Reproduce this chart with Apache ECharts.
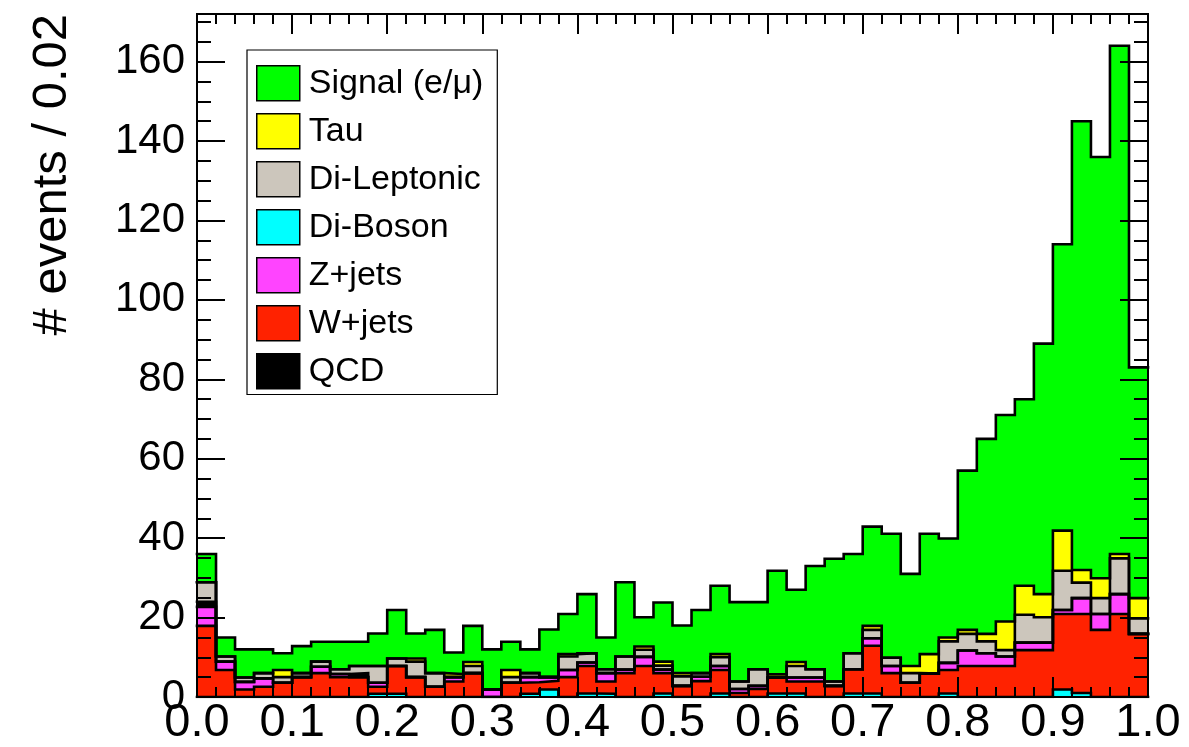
<!DOCTYPE html>
<html>
<head>
<meta charset="utf-8">
<script src="https://cdn.jsdelivr.net/npm/echarts@6/dist/echarts.min.js"></script>
<style>
html,body{margin:0;padding:0;background:#fff;}
#chart{width:1189px;height:747px;}
</style>
</head>
<body>
<div id="chart"></div>
<script>
// ---- data: 50 bins of width 0.02 on [0,1] ----
const nBins = 50;
const binWidth = 0.02;
const yAxisTitle = '# events / 0.02';
const legendNames = ['Signal (e/μ)', 'Tau', 'Di-Leptonic', 'Di-Boson', 'Z+jets', 'W+jets', 'QCD'];

const signal = [7.1,4.8,7.1,6.0,4.2,6.8,5.0,6.9,6.1,8.2,
                12.2,6.3,10.9,5.4,9.1,10.1,7.1,6.0,12.0,10.1,
                14.9,8.0,18.7,7.4,14.9,12.0,15.9,17.2,20.0,16.9,
                26.1,18.2,26.0,30.9,25.0,25.0,31.2,23.2,30.3,24.9,
                40.1,49.1,52.0,47.0,63.1,72.1,113.0,106.1,128.0,58.1];
const tau = [0,0,0,0,1.8,0,0,0,0,0,
             0,0.8,0,0.8,1.0,0,1.8,0,0,0.6,
             0,0,0,0.8,1.0,0.8,0,0.8,0,0,
             0.8,1.0,0,0,0,1.0,0,1.8,4.9,1.0,
             1.0,1.9,7.2,7.3,5.8,10.1,3.2,5.0,1.1,5.1];
const diLeptonic = [4.9,1.3,1.1,1.3,1.4,1.0,1.3,1.2,1.8,4.2,
                    1.9,3.9,3.4,0,1.8,0,1.4,1.0,0,3.4,
                    2.3,1.0,3.3,1.8,1.0,2.4,0.9,2.2,1.9,4.2,
                    0,2.9,2.1,1.1,4.0,2.1,2.1,2.4,0,5.4,
                    4.2,3.0,1.6,7.0,6.4,9.9,3.9,4.0,9.0,3.9];
const diBoson = [0,0,0,0,0,0,0,0,0,0.8,
                 0.8,0,0,0,0,0,0,0.8,1.9,0,
                 0.9,0.8,0,0,0.9,0,0,0.9,0,0,
                 0.9,0.9,0,0,0.9,0.9,0,0,0,0.9,
                 0,0,0,0,0,1.9,1.0,0,0,0];
const zJets = [4.8,2.1,1.9,2.1,0,0,1.6,0.8,0,1.0,
               0,0,0,1.1,0,1.9,0,1.3,0.9,1.8,
               0.9,2.1,0.9,2.3,0.9,0,1.1,1.0,1.0,0.8,
               0,1.0,1.0,0,0,1.9,1.8,0,0,1.8,
               3.9,3.2,2.4,1.9,1.9,1.0,4.0,4.0,5.0,0];
const wJets = [17.9,6.8,1.9,2.6,3.6,5.0,6.0,5.0,5.0,1.8,
               7.0,5.0,2.6,3.9,6.0,0,3.6,2.9,2.2,5.0,
               6.9,3.1,6.0,7.8,5.1,2.8,4.0,5.9,1.0,2.0,
               4.0,3.0,3.9,2.8,6.1,12.0,6.0,3.6,5.9,5.9,
               7.8,7.8,7.8,11.8,11.8,19.0,19.9,16.9,20.9,15.9];
const qcd = [1.3,0,0,0,0,0,0,0,1.0,0,
             0,0,0,0,0,0,0,0,0,0,
             0,0,0,0,0,0,0,0,0,0,
             0,0,0,0,0,0,0,0,0,0,
             0,0,0,0,0,0,0,0,0,0];

// ---- styles ----
const fillColors = {
  'Signal (e/μ)': '#00ff00',
  'Tau': '#ffff00',
  'Di-Leptonic': '#ccc6bc',
  'Di-Boson': '#00ffff',
  'Z+jets': '#ff44ff',
  'W+jets': '#ff2200',
  'QCD': '#000000'
};

// stacking order, bottom to top
const stackOrder = [
  ['Di-Boson', diBoson],
  ['W+jets', wJets],
  ['Z+jets', zJets],
  ['QCD', qcd],
  ['Di-Leptonic', diLeptonic],
  ['Tau', tau],
  ['Signal (e/μ)', signal]
];

let cum = new Array(nBins).fill(0);
const layers = stackOrder.map(([name, vals]) => {
  cum = cum.map((c, i) => c + vals[i]);
  return { name: name, top: cum.slice() };
});

// draw tallest cumulative first, each filled down to zero (painter order)
const histSeries = layers.slice().reverse().map(l => ({
  name: l.name,
  type: 'line',
  step: 'end',
  symbol: 'none',
  silent: true,
  xAxisIndex: 0,
  yAxisIndex: 0,
  data: Array.from({ length: nBins + 1 }, (_, i) => [i * binWidth, l.top[Math.min(i, nBins - 1)]]),
  lineStyle: { color: '#000', width: 2.6, join: 'miter', cap: 'square' },
  areaStyle: { color: fillColors[l.name], opacity: 1 },
  itemStyle: { color: fillColors[l.name] },
  emphasis: { disabled: true }
}));

// empty bar series only to give the legend plain filled boxes
const legendSeries = legendNames.map(n => ({
  name: n, type: 'bar', data: [], xAxisIndex: 0, yAxisIndex: 0,
  itemStyle: { color: fillColors[n] }
}));

const tickStyle = { color: '#000', width: 2 };
const lineBlack = { color: '#000', width: 2 };
const yMax = 172;

function xAxisDef(pos, showLabel) {
  return {
    type: 'value', position: pos, min: 0, max: 1, interval: 0.1, z: 10,
    axisLine: { show: true, onZero: false, lineStyle: lineBlack },
    axisTick: { show: true, inside: true, length: 20, lineStyle: tickStyle },
    minorTick: { show: true, splitNumber: 5, length: 10, lineStyle: tickStyle },
    splitLine: { show: false }, minorSplitLine: { show: false },
    axisLabel: {
      show: showLabel, formatter: v => v.toFixed(1), color: '#000',
      fontFamily: '"Liberation Sans Narrow", "Liberation Sans", Arial, sans-serif',
      fontSize: 47, margin: 3, hideOverlap: false
    }
  };
}
function yAxisDef(pos, interval, tickLen, showLabel) {
  return {
    type: 'value', position: pos, offset: 0, min: 0, max: yMax, interval: interval, z: 10,
    axisLine: { show: true, onZero: false, lineStyle: lineBlack },
    axisTick: { show: true, inside: true, length: tickLen, lineStyle: tickStyle },
    splitLine: { show: false },
    axisLabel: {
      show: showLabel, formatter: v => (v % 20 === 0 ? String(v) : ''), color: '#000',
      fontFamily: '"Liberation Sans", Arial, sans-serif', fontSize: 42, margin: 12,
      hideOverlap: false
    }
  };
}

const chart = echarts.init(document.getElementById('chart'), null, { renderer: 'canvas' });
chart.setOption({
  animation: false,
  backgroundColor: '#fff',
  grid: { left: 197, right: 41, top: 14, bottom: 50, containLabel: false, outerBoundsMode: 'none' },
  xAxis: [xAxisDef('bottom', true), xAxisDef('top', false)],
  yAxis: [
    yAxisDef('left', 20, 28, true),
    yAxisDef('left', 5, 14, false),
    yAxisDef('right', 20, 28, false),
    yAxisDef('right', 5, 14, false)
  ],
  legend: {
    orient: 'vertical', left: 247, top: 50,
    icon: 'rect', itemWidth: 43, itemHeight: 35, itemGap: 11.5,
    padding: [15, 14, 5, 9],
    borderColor: '#000', borderWidth: 1.2, backgroundColor: '#fff',
    selectedMode: false,
    data: legendNames,
    itemStyle: { borderColor: '#000', borderWidth: 1.5 },
    textStyle: { fontFamily: '"Liberation Sans", Arial, sans-serif', fontSize: 34, color: '#000', padding: [0, 0, 0, 4] }
  },
  graphic: [{
    type: 'text', x: 52, y: 14, rotation: Math.PI / 2, silent: true,
    style: {
      text: yAxisTitle, font: '49px "Liberation Sans", Arial, sans-serif', fill: '#000',
      align: 'right', verticalAlign: 'middle', textAlign: 'right', textVerticalAlign: 'middle'
    }
  }],
  series: legendSeries.concat(histSeries)
});
</script>
</body>
</html>
